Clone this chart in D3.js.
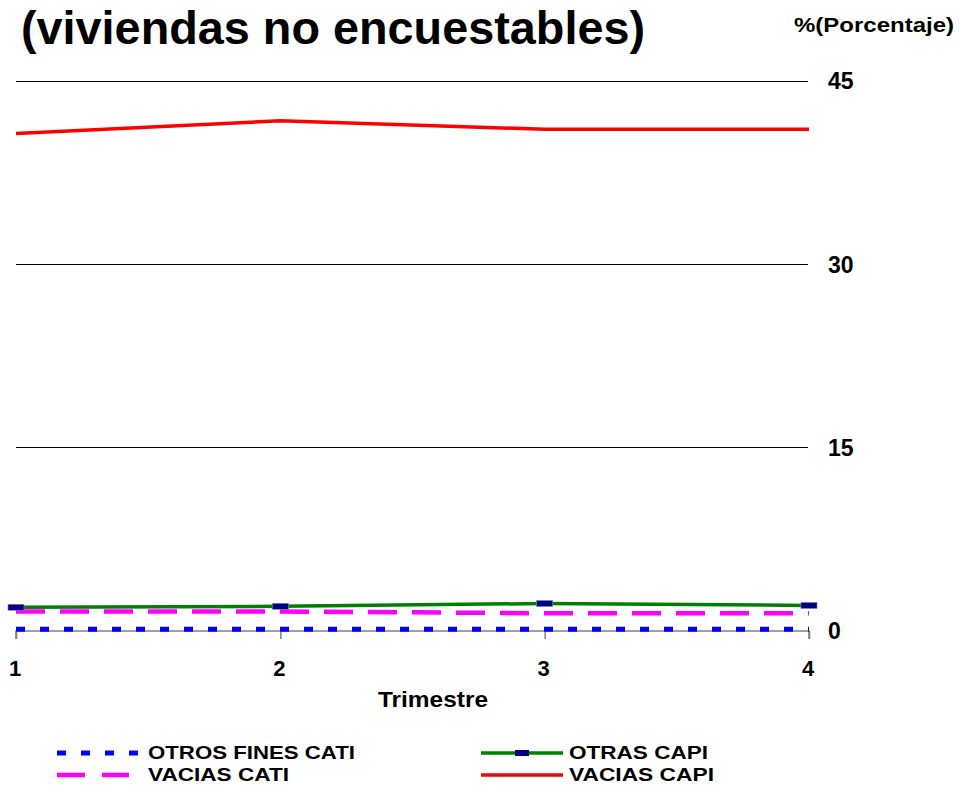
<!DOCTYPE html>
<html>
<head>
<meta charset="utf-8">
<script src="https://cdn.jsdelivr.net/npm/d3@7"></script>
<style>
  html, body { margin: 0; padding: 0; background: #fff; }
  svg { display: block; }
  text { font-family: "Liberation Sans", Arial, sans-serif; font-weight: bold; fill: #000; }
</style>
</head>
<body>
<svg id="chart" width="960" height="785"></svg>
<script>
// ---- Data ----
const trimestres = [1, 2, 3, 4];
const yTicks = [0, 15, 30, 45];
const otrosFinesCati = [0.15, 0.15, 0.15, 0.15];
const vaciasCati = [1.6, 1.6, 1.45, 1.45];
const otrasCapi = [1.94, 2.02, 2.25, 2.09];
const vaciasCapi = [40.7, 41.75, 41.05, 41.05];

const titleText = "(viviendas no encuestables)";
const unitText = "%(Porcentaje)";
const xTitle = "Trimestre";

const seriesList = [
  { name: "OTROS FINES CATI", values: otrosFinesCati, color: "#0000FF", width: 5, dash: "9,15", marker: false },
  { name: "VACIAS CATI", values: vaciasCati, color: "#FF00FF", width: 4.5, dash: "29,15", marker: false },
  { name: "OTRAS CAPI", values: otrasCapi, color: "#008000", width: 3.5, dash: null, marker: true },
  { name: "VACIAS CAPI", values: vaciasCapi, color: "#FF0000", width: 3.5, dash: null, marker: false }
];

// ---- Layout ----
const svg = d3.select("#chart");
const x = d3.scalePoint().domain(trimestres).range([16, 809]);
const y = d3.scaleLinear().domain([0, 45]).range([631, 81]);

// Title
svg.append("text").attr("x", 21).attr("y", 44)
  .attr("textLength", 624).attr("lengthAdjust", "spacingAndGlyphs")
  .style("font-size", "46px").text(titleText);
svg.append("text").attr("x", 794).attr("y", 32)
  .attr("textLength", 160).attr("lengthAdjust", "spacingAndGlyphs")
  .style("font-size", "20px").text(unitText);

// Gridlines (non-zero)
svg.append("g").selectAll("line").data(yTicks.filter(d => d > 0)).join("line")
  .attr("x1", 16).attr("x2", 808)
  .attr("y1", d => y(d)).attr("y2", d => y(d))
  .attr("stroke", "#000").attr("stroke-width", 1).attr("shape-rendering", "crispEdges");

// Y tick labels on the right
svg.append("g").selectAll("text").data(yTicks).join("text")
  .attr("x", 828).attr("y", d => y(d)).attr("dy", "0.36em")
  .style("font-size", "23px").text(d => d);

// X axis (grey baseline with ticks)
const xAxis = d3.axisBottom(x).tickSize(8).tickFormat("");
const gx = svg.append("g").attr("transform", `translate(0,${y(0)})`).call(xAxis);
gx.select(".domain").attr("d", `M${x(1)},8V0H${x(4)}V8`).attr("stroke", "#808080").attr("stroke-width", 1.5);
gx.selectAll(".tick line").attr("stroke", "#808080").attr("stroke-width", 1.5);

// X tick labels
svg.append("g").selectAll("text").data(trimestres).join("text")
  .attr("x", d => x(d) - 1).attr("y", 676).attr("text-anchor", "middle")
  .style("font-size", "22px").text(d => d);
svg.append("text").attr("x", 378).attr("y", 707)
  .attr("textLength", 110).attr("lengthAdjust", "spacingAndGlyphs")
  .style("font-size", "22px").text(xTitle);

// Lines
const line = d3.line().x((d, i) => x(trimestres[i])).y(d => y(d));
seriesList.forEach(s => {
  svg.append("path").datum(s.values)
    .attr("d", line)
    .attr("fill", "none")
    .attr("stroke", s.color)
    .attr("stroke-width", s.width)
    .attr("stroke-dasharray", s.dash)
    .attr("stroke-linejoin", "round");
  if (s.marker) {
    svg.append("g").selectAll("rect").data(s.values).join("rect")
      .attr("x", (d, i) => x(trimestres[i]) - 8)
      .attr("y", d => y(d) - 3)
      .attr("width", 16).attr("height", 6)
      .attr("fill", "#000080").attr("stroke", "#8080c0").attr("stroke-width", 0.6);
  }
});

// Legend
const legendPos = [
  { x1: 57, x2: 138, tx: 148, cy: 753, tw: 207 },
  { x1: 57, x2: 129, tx: 148, cy: 775, tw: 141 },
  { x1: 481, x2: 563, tx: 569, cy: 753, tw: 139 },
  { x1: 481, x2: 563, tx: 569, cy: 775, tw: 145 }
];
const legendDash = ["9,15", "28,17", null, null];
seriesList.forEach((s, i) => {
  const p = legendPos[i];
  svg.append("line").attr("x1", p.x1).attr("x2", p.x2).attr("y1", p.cy).attr("y2", p.cy)
    .attr("stroke", s.color).attr("stroke-width", s.width)
    .attr("stroke-dasharray", legendDash[i]);
  if (s.marker) {
    svg.append("rect").attr("x", (p.x1 + p.x2) / 2 - 7).attr("y", p.cy - 3)
      .attr("width", 14).attr("height", 6).attr("fill", "#000080");
  }
  svg.append("text").attr("x", p.tx).attr("y", p.cy + 6)
    .attr("textLength", p.tw).attr("lengthAdjust", "spacingAndGlyphs")
    .style("font-size", "19px").text(s.name);
});
</script>
</body>
</html>
